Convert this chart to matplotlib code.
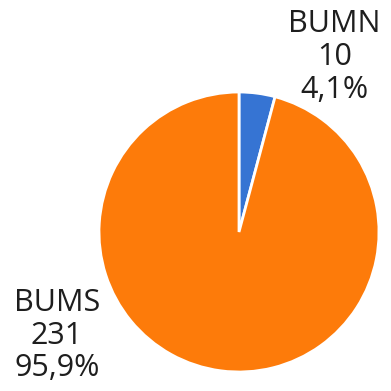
import matplotlib
matplotlib.use("Agg")
import matplotlib.pyplot as plt

labels = ["BUMN", "BUMS"]
counts = [10, 231]
percents = ["4,1%", "95,9%"]
colors = ["#3674d3", "#fd7b0a"]

plt.rcParams['font.family'] = ['Open Sans', 'DejaVu Sans']

fig = plt.figure(figsize=(3.91, 3.91), dpi=100)
# pie centre at about (239, 232) px, radius 140 px
ax = fig.add_axes([99 / 391, 19 / 391, 280 / 391, 280 / 391])
ax.pie(counts, colors=colors, startangle=90, counterclock=False, radius=1,
       wedgeprops=dict(edgecolor="white", linewidth=2))
ax.set_xlim(-1, 1)
ax.set_ylim(-1, 1)
ax.set_aspect("equal")
ax.axis("off")

# label positions (outside the pie)
label_pos = [(0.68, 1.25), (-1.3, -0.74)]
for (x, y), name, n, p in zip(label_pos, labels, counts, percents):
    ax.text(x, y, f"{name}\n{n}\n{p}", ha="center", va="center",
            fontsize=22, color="#1e1e1e", linespacing=1.12, clip_on=False)

fig.savefig("out.png", dpi=100)
